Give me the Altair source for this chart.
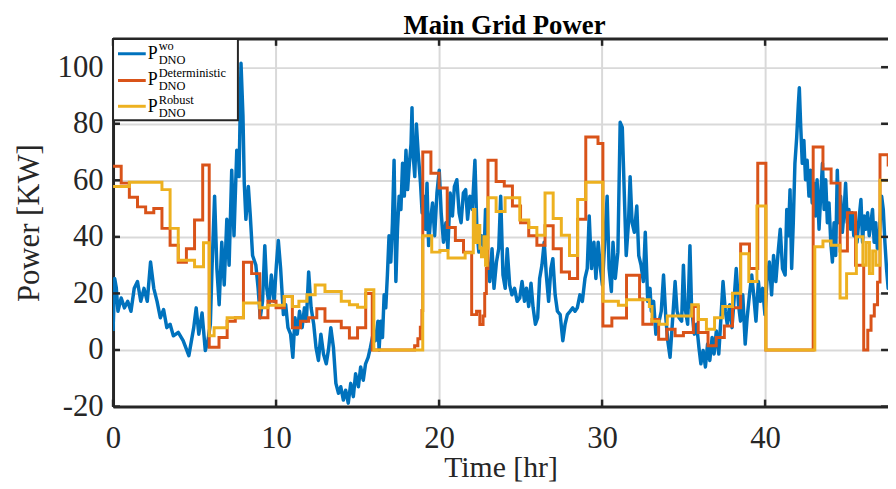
import altair as alt
import pandas as pd

# ---------------- data ----------------
blue_t = [0.00, 0.10, 0.20, 0.30, 0.50, 0.70, 0.90, 1.10, 1.30, 1.50, 1.70, 1.90, 2.10, 2.30, 2.50, 2.70,
          2.90, 3.10, 3.30, 3.50, 3.70, 4.00, 4.30, 4.65, 4.95, 5.10, 5.26, 5.46, 5.66, 5.82, 5.97, 6.07,
          6.23, 6.37, 6.51, 6.67, 6.82, 6.98, 7.12, 7.28, 7.42, 7.59, 7.73, 7.85, 7.97, 8.05, 8.15, 8.30,
          8.42, 8.56, 8.76, 8.90, 9.03, 9.17, 9.31, 9.43, 9.57, 9.71, 9.88, 10.02, 10.14, 10.28, 10.45,
          10.59, 10.73, 10.89, 11.03, 11.16, 11.30, 11.44, 11.60, 11.74, 11.86, 12.00, 12.15, 12.31,
          12.45, 12.60, 12.75, 12.91, 13.08, 13.22, 13.36, 13.52, 13.67, 13.83, 13.97, 14.13, 14.27,
          14.43, 14.58, 14.74, 14.88, 15.05, 15.19, 15.35, 15.49, 15.65, 15.79, 15.95, 16.10, 16.25,
          16.32, 16.42, 16.53, 16.63, 16.73, 16.83, 16.93, 17.04, 17.14, 17.24, 17.35, 17.45, 17.55,
          17.66, 17.76, 17.87, 17.97, 18.07, 18.18, 18.28, 18.34, 18.39, 18.51, 18.61, 18.72, 18.86,
          18.96, 19.06, 19.16, 19.26, 19.36, 19.46, 19.60, 19.73, 19.87, 20.01, 20.13, 20.27, 20.42,
          20.54, 20.68, 20.82, 20.94, 21.09, 21.23, 21.35, 21.49, 21.63, 21.75, 21.89, 22.04, 22.20,
          22.32, 22.44, 22.60, 22.77, 22.85, 22.97, 23.11, 23.25, 23.37, 23.52, 23.66, 23.78, 23.92,
          24.06, 24.18, 24.33, 24.47, 24.63, 24.79, 24.95, 25.09, 25.24, 25.36, 25.50, 25.64, 25.77,
          25.91, 26.05, 26.17, 26.31, 26.45, 26.58, 26.72, 26.86, 26.98, 27.12, 27.26, 27.43, 27.59,
          27.73, 27.87, 28.04, 28.20, 28.34, 28.48, 28.64, 28.79, 28.95, 29.09, 29.21, 29.35, 29.50,
          29.62, 29.76, 29.90, 30.02, 30.16, 30.31, 30.43, 30.57, 30.67, 30.81, 30.97, 31.11, 31.24,
          31.38, 31.48, 31.62, 31.72, 31.84, 31.98, 32.13, 32.25, 32.39, 32.53, 32.65, 32.80, 32.94,
          33.02, 33.16, 33.30, 33.46, 33.63, 33.77, 33.91, 34.03, 34.17, 34.32, 34.48, 34.60, 34.72,
          34.88, 34.99, 35.09, 35.25, 35.39, 35.49, 35.66, 35.80, 35.94, 36.06, 36.20, 36.34, 36.47,
          36.61, 36.75, 36.87, 37.01, 37.16, 37.28, 37.42, 37.56, 37.68, 37.83, 37.97, 38.09, 38.23,
          38.37, 38.49, 38.63, 38.78, 38.90, 39.04, 39.18, 39.30, 39.44, 39.59, 39.71, 39.85, 39.99,
          40.11, 40.26, 40.40, 40.52, 40.66, 40.80, 40.93, 41.07, 41.23, 41.33, 41.43, 41.53, 41.63,
          41.73, 41.83, 41.94, 42.04, 42.10, 42.18, 42.28, 42.38, 42.48, 42.58, 42.69, 42.79, 42.89,
          42.99, 43.09, 43.19, 43.31, 43.42, 43.52, 43.62, 43.72, 43.82, 43.92, 44.03, 44.13, 44.23,
          44.33, 44.43, 44.53, 44.63, 44.74, 44.84, 44.94, 45.04, 45.14, 45.24, 45.34, 45.44, 45.54,
          45.64, 45.74, 45.88, 45.98, 46.08, 46.18, 46.29, 46.39, 46.49, 46.59, 46.69, 46.79, 46.89,
          47.03, 47.15, 47.25, 47.35, 47.45, 47.55, 47.67, 47.80]
blue_v = [6.7, 25.3, 22.0, 13.7, 18.4, 14.9, 17.2, 13.7, 21.8, 24.2, 17.2, 21.8, 17.2, 31.1, 21.8, 17.2,
          11.4, 14.3, 7.9, 9.1, 5.0, 6.2, 3.3, -2.0, 7.9, 14.9, 5.6, 13.1, -0.2, 3.3, 9.1, 28.8,
          54.4, 28.8, 16.0, 38.1, 23.0, 46.2, 30.0, 63.6, 40.4, 70.6, 61.3, 101.4, 82.8, 59.0, 46.2, 57.8,
          47.4, 33.4, 30.0, 21.8, 11.4, 17.2, 36.9, 21.8, 16.0, 26.5, 17.2, 30.0, 38.7, 28.8, 12.5,
          16.0, 7.9, 5.6, -2.6, 11.4, 5.6, 13.7, 7.9, 14.9, 10.2, 27.6, 14.9, 9.1,
          0.9, -3.7, 5.6, -1.4, -4.9, 0.3, 7.9, 0.9, -11.8, -15.3, -13.0, -17.7, -14.2,
          -18.8, -11.8, -16.5, -8.4, -13.0, -6.0, -10.7, -4.9, -2.6, 0.9, 5.6, 3.3, 10.2,
          0.0, 10.2, 4.4, 19.5, 14.9, 26.5, 40.4, 31.1, 45.0, 67.1, 24.2, 42.7, 54.4,
          49.7, 66.0, 54.4, 70.6, 56.7, 66.0, 72.9, 85.7, 70.6, 61.3, 79.9, 69.5, 59.0,
          48.5, 54.4, 42.7, 59.0, 36.9, 45.0, 52.0, 40.4, 55.5, 63.6, 48.5, 38.1, 45.0,
          35.8, 55.5, 47.4, 57.8, 60.2, 48.5, 45.0, 55.5, 56.7, 46.2, 54.4, 49.7, 67.1,
          42.7, 34.6, 40.4, 35.8, 49.7, 31.1, 24.2, 35.8, 21.8, 31.1, 35.8, 54.4, 26.5,
          21.8, 35.8, 23.0, 19.5, 21.8, 17.2, 18.4, 24.2, 17.2, 21.8, 15.4, 23.6, 14.9,
          9.1, 11.4, 25.3, 30.0, 38.1, 26.5, 17.2, 28.8, 32.3, 19.5, 13.7, 12.5, 3.3,
          9.1, 12.5, 13.7, 14.9, 13.7, 14.9, 19.5, 17.2, 25.3, 28.8, 47.4, 28.8, 38.1,
          25.3, 38.1, 28.8, 23.0, 38.1, 54.4, 28.8, 20.7, 38.1, 25.3, 34.6, 80.5, 78.7,
          52.0, 33.4, 45.0, 61.3, 45.0, 41.6, 50.9, 33.4, 30.0, 24.2, 41.6, 17.2, 21.8,
          13.7, 17.2, 5.6, 9.1, 13.7, 26.5, 11.4, 3.3, -2.6, 10.2, 24.2, 13.7, 11.4,
          10.2, 30.0, 14.9, 9.1, 36.9, 14.9, 5.6, 9.1, 0.9, -4.9, -0.2, -6.0, 2.1,
          -3.7, 4.4, -1.4, 6.7, -1.4, 10.2, 24.2, 13.7, 9.1, 16.0, 7.9, 17.2, 28.8,
          16.0, 10.2, 19.5, 2.1, 11.4, 19.5, 26.5, 19.5, 10.2, 24.2, 17.2, 21.8, 12.5,
          24.2, 31.1, 19.5, 33.4, 24.2, 34.6, 42.7, 28.8, 26.5, 49.7, 40.4, 56.7, 28.8,
          45.0, 66.0, 75.3, 86.9, 92.7, 79.9, 66.0, 74.1, 60.2, 67.1, 54.4, 63.6, 52.0,
          59.0, 47.4, 60.2, 42.7, 55.5, 66.0, 49.7, 60.2, 45.0, 52.0, 38.1, 31.1, 45.0,
          33.4, 63.6, 45.0, 54.4, 41.6, 48.5, 59.0, 45.0, 49.7, 42.7, 48.5, 40.4, 43.9,
          38.1, 45.0, 53.2, 38.1, 47.4, 42.7, 48.5, 40.4, 45.0, 49.7, 38.1, 45.0, 35.8,
          42.7, 54.4, 49.7, 38.1, 28.8, 21.8, 24.2, 30.0]

det_t = [0.0, 0.5, 1.0, 1.5, 2.0, 2.5, 3.0, 3.5, 4.0, 4.5, 5.0, 5.5, 5.9, 6.5, 7.0, 7.5, 8.0, 8.5,
         9.0, 9.5, 10.0, 10.5, 11.0, 11.5, 12.0, 12.5, 13.0, 14.0, 14.5, 15.0, 15.5, 15.9, 18.5,
         18.7, 18.85, 18.95, 19.0, 19.5, 20.0, 20.5, 21.0, 21.5, 22.0, 22.3, 22.5, 22.7, 22.8, 22.9,
         23.0, 23.5, 24.0, 24.5, 25.0, 25.5, 26.0, 26.5, 27.0, 27.5, 28.0, 28.5, 29.0, 29.75, 30.05,
         30.6, 31.5, 32.3, 32.5, 33.06, 33.47, 33.97, 34.48, 34.99, 35.6, 35.9, 36.5, 37.0, 37.5,
         38.0, 38.5, 39.04, 39.55, 40.05, 42.95, 43.55, 44.05, 44.6, 45.05, 45.55, 46.05, 46.3, 46.5,
         46.7, 46.9, 47.05, 47.55, 48.0]
det_v = [65.0, 59.0, 54.0, 50.6, 48.5, 50.0, 43.0, 37.0, 31.0, 35.8, 46.0, 65.4, 1.0, 4.4, 10.2, 11.4, 31.0, 27.0,
         11.4, 17.2, 14.9, 18.9, 7.9, 10.2, 11.4, 14.6, 10.2, 7.9, 4.2, 7.9, 20.0, 0.0, 1.5,
         4.0, 8.0, 14.0, 70.0, 62.5, 57.3, 43.3, 38.7, 34.6, 12.5, 13.7, 9.0, 12.0, 20.0, 28.8,
         67.1, 59.6, 58.0, 50.9, 45.0, 40.4, 37.0, 43.9, 35.8, 27.6, 25.3, 46.2, 75.3, 73.0, 8.5,
         11.3, 26.4, 18.0, 9.1, 10.8, 3.8, 7.3, 5.0, 6.2, 15.4, 6.2, 1.5, 4.4, 8.5,
         14.9, 37.5, 28.8, 66.0, 0.0, 71.8, 64.0, 59.0, 35.0, 48.5, 30.0, 0.0, 7.0, 12.0,
         16.0, 24.0, 69.0, 65.4, 65.4]

rob_t = [0.0, 1.0, 3.0, 3.5, 4.0, 5.0, 5.55, 5.9, 6.2, 7.0, 8.0, 9.0, 9.5, 10.5, 11.0, 11.4, 11.9,
         12.4, 13.0, 14.0, 14.5, 15.0, 15.5, 16.0, 19.0, 19.55, 20.05, 20.55, 21.6, 22.1, 22.2, 22.35,
         22.5, 22.6, 22.75, 22.85, 22.95, 23.0, 23.5, 24.05, 24.95, 25.5, 26.0, 26.5, 27.0, 27.5, 28.0,
         28.5, 29.0, 30.05, 31.0, 31.5, 32.9, 33.06, 33.5, 34.0, 35.5, 35.9, 36.4, 36.9, 37.4, 38.0,
         38.5, 39.0, 39.5, 40.05, 43.05, 43.55, 44.05, 44.6, 45.0, 45.6, 46.0, 46.2, 46.4, 46.6, 46.8,
         47.05, 48.0]
rob_v = [57.8, 59.3, 56.7, 43.0, 31.7, 29.4, 37.9, 5.0, 7.9, 11.4, 16.6, 14.9, 15.8, 18.9, 15.4, 17.2, 19.5,
         23.0, 20.7, 17.2, 16.0, 15.1, 21.3, 0.0, 40.4, 34.6, 35.2, 32.5, 34.4, 49.7, 38.0, 44.0,
         36.0, 33.0, 40.0, 30.0, 36.0, 53.8, 49.0, 53.8, 46.0, 43.3, 40.6, 55.5, 46.5, 40.6, 33.4,
         53.2, 59.3, 17.2, 15.8, 17.8, 15.4, 10.2, 9.1, 12.0, 16.0, 10.8, 7.3, 11.4, 15.4, 20.1,
         34.0, 24.2, 50.9, 0.0, 36.5, 38.5, 37.0, 18.4, 27.0, 40.0, 30.0, 38.0, 27.0, 35.0, 30.0,
         60.0, 60.0]

x_ticks = [0, 10, 20, 30, 40]
y_ticks = [-20, 0, 20, 40, 60, 80, 100]
legend_sup = ["wo", "Deterministic", "Robust"]
legend_sub = ["DNO", "DNO", "DNO"]
title_text = "Main Grid Power"

# ---------------- style ----------------
PAD_L, PAD_T, PAD_B = 106, 29, 78
W, H = 782, 371
X_DOMAIN = [0, 47.54]
Y_DOMAIN = [-20, 110]
COLORS = ["#0072BD", "#D95319", "#EDB120"]
DARK = "#262626"
SERIF = "Liberation Serif"

xs = alt.Scale(domain=X_DOMAIN, nice=False, zero=False)
ys = alt.Scale(domain=Y_DOMAIN, nice=False, zero=False)

x_axis = alt.Axis(values=x_ticks, title="Time [hr]", labelPadding=17, labelFontSize=31, labelFlush=False,
                  titleFontSize=30, titleY=71, titleBaseline="alphabetic", labelExpr="'' + datum.value")
y_axis = alt.Axis(values=y_ticks, title="Power [KW]", labelPadding=10, labelFontSize=31, labelFlush=False,
                  titleFontSize=31, titleX=-84, titleY=H / 2, titleBaseline="middle",
                  titleAngle=270, labelExpr="'' + datum.value")
X_ENC = alt.X("t:Q", scale=xs, axis=x_axis)
Y_ENC = alt.Y("v:Q", scale=ys, axis=y_axis)

blue_df = pd.DataFrame({"t": blue_t, "v": blue_v})
det_df = pd.DataFrame({"t": det_t, "v": det_v})
rob_df = pd.DataFrame({"t": rob_t, "v": rob_v})
xt_df = pd.DataFrame({"t": x_ticks})
yt_df = pd.DataFrame({"v": y_ticks})
one = pd.DataFrame({"k": [0]})

blue = alt.Chart(blue_df).mark_line(color=COLORS[0], strokeWidth=3.5, clip=True, strokeJoin="round").encode(
    x=X_ENC, y=Y_ENC, order="t:Q")
det = alt.Chart(det_df).mark_line(color=COLORS[1], strokeWidth=3, clip=True, interpolate="step-after").encode(
    x=X_ENC, y=Y_ENC, order="t:Q")
rob = alt.Chart(rob_df).mark_line(color=COLORS[2], strokeWidth=3, clip=True, interpolate="step-after").encode(
    x=X_ENC, y=Y_ENC, order="t:Q")

TK = 7
xtick_b = alt.Chart(xt_df).mark_rule(color=DARK, strokeWidth=2.5).encode(
    x=X_ENC, y=alt.value(H), y2=alt.value(H - TK))
xtick_t = alt.Chart(xt_df).mark_rule(color=DARK, strokeWidth=2.5).encode(
    x=X_ENC, y=alt.value(0), y2=alt.value(TK))
ytick_l = alt.Chart(yt_df).mark_rule(color=DARK, strokeWidth=2.5).encode(
    y=Y_ENC, x=alt.value(0), x2=alt.value(TK))
ytick_r = alt.Chart(yt_df).mark_rule(color=DARK, strokeWidth=2.5).encode(
    y=Y_ENC, x=alt.value(W - TK), x2=alt.value(W))
top_border = alt.Chart(one).mark_rule(color=DARK, strokeWidth=3).encode(
    x=alt.value(0), x2=alt.value(W), y=alt.value(0))
title_mark = alt.Chart(one).mark_text(font=SERIF, fontSize=27, fontWeight="bold", color="black",
                                       align="center", baseline="alphabetic").encode(
    x=alt.value(W / 2 + 4), y=alt.value(-5), text=alt.value(title_text))

# legend (custom, to allow super/subscripts)
legend_layers = [alt.Chart(one).mark_rect(fill="white", stroke=DARK, strokeWidth=2).encode(
    x=alt.value(0), x2=alt.value(126), y=alt.value(0), y2=alt.value(82))]
row_line = [15, 42, 68]
row_p = [20, 47, 74]
row_sup = [11.5, 38.5, 65.5]
row_sub = [25, 52, 79]
for i in range(3):
    legend_layers.append(alt.Chart(one).mark_rule(color=COLORS[i], strokeWidth=3).encode(
        x=alt.value(5), x2=alt.value(33), y=alt.value(row_line[i])))
    legend_layers.append(alt.Chart(one).mark_text(font=SERIF, fontSize=18, align="left",
                                                   baseline="alphabetic", color="black").encode(
        x=alt.value(35), y=alt.value(row_p[i]), text=alt.value("P")))
    legend_layers.append(alt.Chart(one).mark_text(font=SERIF, fontSize=12.5, align="left",
                                                   baseline="alphabetic", color="black").encode(
        x=alt.value(46), y=alt.value(row_sup[i]), text=alt.value(legend_sup[i])))
    legend_layers.append(alt.Chart(one).mark_text(font=SERIF, fontSize=12.5, align="left",
                                                   baseline="alphabetic", color="black").encode(
        x=alt.value(46), y=alt.value(row_sub[i]), text=alt.value(legend_sub[i])))

chart = alt.layer(
    blue, det, rob, xtick_b, xtick_t, ytick_l, ytick_r, top_border, title_mark, *legend_layers
).properties(
    width=W, height=H,
    autosize=alt.AutoSizeParams(type="none"),
    padding={"left": PAD_L, "top": PAD_T, "right": 0, "bottom": PAD_B},
).configure_view(stroke=None).configure_axis(
    domainColor=DARK, domainWidth=3, grid=True, gridColor="#d9d9d9", gridWidth=2, tickSize=0,
    labelFont=SERIF, titleFont=SERIF, labelColor=DARK, titleColor=DARK, titleFontWeight="normal",
)

chart.save("out.html", embed_options={"renderer": "svg", "actions": False})
